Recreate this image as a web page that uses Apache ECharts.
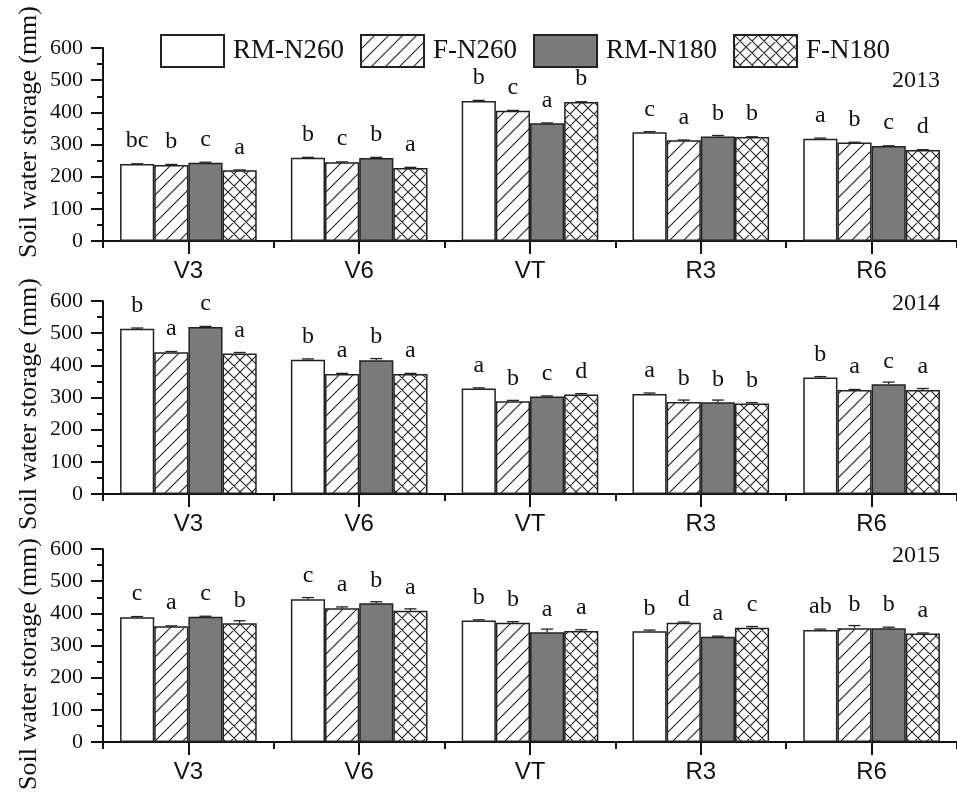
<!DOCTYPE html>
<html>
<head>
<meta charset="utf-8">
<script src="https://cdn.jsdelivr.net/npm/echarts@6/dist/echarts.min.js"></script>
<style>
html,body{margin:0;padding:0;background:#fff;}
#chart{width:957px;height:795px;}
</style>
</head>
<body>
<div id="chart"></div>
<script>
// ---------- data ----------
const categories = ['V3', 'V6', 'VT', 'R3', 'R6'];
const treatments = ['RM-N260', 'F-N260', 'RM-N180', 'F-N180'];
const years = ['2013', '2014', '2015'];
const yTicks = [0, 100, 200, 300, 400, 500, 600];

// values: one array per treatment, in the order of `treatments`
const values2013 = [
  [239, 259, 435, 338, 318],
  [236, 245, 405, 313, 306],
  [243, 258, 366, 325, 295],
  [220, 227, 432, 323, 283]
];
const values2014 = [
  [514, 417, 328, 311, 362],
  [441, 373, 288, 286, 323],
  [519, 416, 303, 285, 341],
  [437, 373, 309, 281, 323]
];
const values2015 = [
  [388, 444, 378, 344, 348],
  [360, 416, 371, 371, 354],
  [389, 431, 341, 327, 354],
  [369, 408, 345, 355, 337]
];

const errors2013 = [
  [1, 1, 2, 2, 2],
  [2, 1, 1, 1, 1],
  [2, 2, 1, 3, 1],
  [1, 2, 1, 1, 1]
];
const errors2014 = [
  [2, 3, 2, 3, 3],
  [2, 2, 3, 6, 2],
  [2, 5, 2, 7, 7],
  [3, 2, 3, 3, 5]
];
const errors2015 = [
  [2, 5, 2, 4, 3],
  [1, 4, 3, 2, 8],
  [2, 5, 10, 2, 3],
  [8, 6, 4, 4, 2]
];

const letters2013 = [
  ['bc', 'b', 'b', 'c', 'a'],
  ['b', 'c', 'c', 'a', 'b'],
  ['c', 'b', 'a', 'b', 'c'],
  ['a', 'a', 'b', 'b', 'd']
];
const letters2014 = [
  ['b', 'b', 'a', 'a', 'b'],
  ['a', 'a', 'b', 'b', 'a'],
  ['c', 'b', 'c', 'b', 'c'],
  ['a', 'a', 'd', 'b', 'a']
];
const letters2015 = [
  ['c', 'c', 'b', 'b', 'ab'],
  ['a', 'a', 'b', 'd', 'b'],
  ['c', 'b', 'a', 'a', 'b'],
  ['b', 'a', 'a', 'c', 'a']
];

const yearValues = [values2013, values2014, values2015];
const yearErrors = [errors2013, errors2014, errors2015];
const yearLetters = [letters2013, letters2014, letters2015];

// ---------- styles ----------
const SERIF = '"Liberation Serif", "Times New Roman", serif';
const SANS = '"Liberation Sans", Arial, sans-serif';
const INK = '#111';

function makeHatch(p, cross) {
  const c = document.createElement('canvas');
  c.width = p; c.height = p;
  const ctx = c.getContext('2d');
  ctx.fillStyle = '#fff';
  ctx.fillRect(0, 0, p, p);
  ctx.strokeStyle = '#222';
  ctx.lineWidth = 1.1;
  ctx.beginPath();
  for (let k = -1; k <= 1; k++) {
    ctx.moveTo(-1 + k * p, p + 1);
    ctx.lineTo(p + 1 + k * p, -1);
  }
  if (cross) {
    for (let k = -1; k <= 1; k++) {
      ctx.moveTo(-1 + k * p, -1);
      ctx.lineTo(p + 1 + k * p, p + 1);
    }
  }
  ctx.stroke();
  return c;
}

const fills = [
  '#ffffff',
  { image: makeHatch(14, false), repeat: 'repeat' },
  '#7a7a7a',
  { image: makeHatch(12, true), repeat: 'repeat' }
];

const gridTops = [48, 301, 549];
const gridHeight = 193;
const yearLabelY = [82, 305, 557];
const yTitleY = [132, 404, 664];

const grids = [], xAxes = [], yAxes = [], series = [], graphics = [];

gridTops.forEach((top, g) => {
  grids.push({ left: 103, right: -8, top: top, height: gridHeight });
  // main category axis: long ticks at category centres, labels
  xAxes.push({
    type: 'category', gridIndex: g, data: categories,
    axisLine: { show: true, lineStyle: { color: INK, width: 2 } },
    axisTick: { show: true, alignWithLabel: true, length: 13, lineStyle: { color: INK, width: 2 } },
    axisLabel: { show: true, color: INK, fontFamily: SANS, fontSize: 24, margin: 18 },
    splitLine: { show: false }
  });
  // secondary axis: short ticks at category boundaries
  xAxes.push({
    type: 'category', gridIndex: g, data: categories, position: 'bottom',
    axisLine: { show: false },
    axisTick: { show: true, alignWithLabel: false, length: 7, lineStyle: { color: INK, width: 2 } },
    axisLabel: { show: false },
    splitLine: { show: false }
  });
  yAxes.push({
    type: 'value', gridIndex: g, min: yTicks[0], max: yTicks[yTicks.length - 1], interval: 100,
    axisLine: { show: true, lineStyle: { color: INK, width: 2 } },
    axisTick: { show: true, length: 12, lineStyle: { color: INK, width: 2 } },
    minorTick: { show: true, splitNumber: 2, length: 6, lineStyle: { color: INK, width: 2 } },
    axisLabel: { color: INK, fontFamily: SERIF, fontSize: 22, margin: 20 },
    splitLine: { show: false }
  });

  const vals = yearValues[g], lets = yearLetters[g], errs = yearErrors[g];
  treatments.forEach((name, s) => {
    series.push({
      name: name, type: 'bar', xAxisIndex: 2 * g, yAxisIndex: g,
      data: vals[s],
      barGap: '0%', barCategoryGap: '20%',
      itemStyle: { color: fills[s], borderColor: '#222', borderWidth: 1.5 },
      label: {
        show: true, position: 'top', distance: 11,
        color: INK, fontFamily: SERIF, fontSize: 24,
        formatter: (p) => lets[s][p.dataIndex]
      },
      emphasis: { disabled: true },
      z: 2
    });
  });

  const errData = [];
  treatments.forEach((name, s) => {
    categories.forEach((c, i) => errData.push([i, s, vals[s][i], errs[s][i]]));
  });
  series.push({
    type: 'custom', xAxisIndex: 2 * g, yAxisIndex: g,
    data: errData, encode: { x: 0, y: 2 }, z: 3, silent: true,
    renderItem: function (params, api) {
      const cat = api.value(0), s = api.value(1), v = api.value(2), e = api.value(3);
      const base = api.coord([cat, v]);
      const topPt = api.coord([cat, v + e]);
      const band = api.size([1, 0])[0];
      const bw = band * 0.8 / 4;
      const x = base[0] + (s - 1.5) * bw;
      const cap = 6;
      const st = { stroke: '#222', lineWidth: 1.3 };
      return {
        type: 'group',
        children: [
          { type: 'line', shape: { x1: x, y1: base[1], x2: x, y2: topPt[1] }, style: st },
          { type: 'line', shape: { x1: x - cap, y1: topPt[1], x2: x + cap, y2: topPt[1] }, style: st }
        ]
      };
    }
  });

  graphics.push({
    type: 'text', right: 17, top: yearLabelY[g] - 13,
    style: { text: years[g], fill: INK, font: '24px ' + SERIF }
  });
  graphics.push({
    type: 'text', x: 29, y: yTitleY[g], rotation: Math.PI / 2,
    style: { text: 'Soil water storage (mm)', fill: INK, font: '26px ' + SERIF,
             textAlign: 'center', textVerticalAlign: 'middle' }
  });
});

const chart = echarts.init(document.getElementById('chart'), null, { renderer: 'canvas' });
chart.setOption({
  backgroundColor: '#ffffff',
  animation: false,
  legend: {
    data: treatments, left: 160, top: 34, padding: 0,
    itemWidth: 63, itemHeight: 32, itemGap: 16,
    icon: 'rect',
    textStyle: { color: INK, fontFamily: SERIF, fontSize: 27, padding: [0, 0, 0, 4] },
    selectedMode: false
  },
  grid: grids,
  xAxis: xAxes,
  yAxis: yAxes,
  series: series,
  graphic: graphics
});
</script>
</body>
</html>
